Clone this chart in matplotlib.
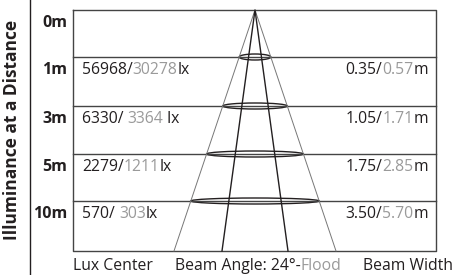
import numpy as np
import matplotlib.pyplot as plt
from matplotlib.patches import Ellipse

plt.rcParams['font.family'] = ['Open Sans', 'DejaVu Sans']

# table data
distances = ["0m", "1m", "3m", "5m", "10m"]
lux_center = ["", "56968/", "6330/ ", "2279/", "570/ "]
lux_flood = ["", "30278", "3364", "1211", "303"]
lux_unit = ["", "lx", " lx", "lx", "lx"]
width_beam = ["", "0.35/", "1.05/", "1.75/", "3.50/"]
width_flood = ["", "0.57", "1.71", "2.85", "5.70"]
beam_angle = 24

DARK = "#231f20"
GRAY = "#9a9a9a"
LINE = "#444444"

fig = plt.figure(figsize=(4.54, 2.75), dpi=100)
ax = fig.add_axes([0, 0, 1, 1])
ax.set_xlim(0, 454)
ax.set_ylim(275, 0)
ax.axis("off")
fig.canvas.draw()
renderer = fig.canvas.get_renderer()

left, right, top, bottom = 73, 436, 10, 251
row_y = [10, 57, 106, 154, 201]

# frame
ax.plot([left, left, right, right, left], [top, bottom, bottom, top, top], color=LINE, lw=1)
ax.plot([30, 30], [0, 275], color=DARK, lw=1)
for y in row_y[1:]:
    ax.plot([left, right], [y, y], color=LINE, lw=1)

def pieces(x, y, parts, size, align="left"):
    # draw multi-coloured text one piece after another
    objs = []
    for s, c in parts:
        t = ax.text(0, y, s, color=c, fontsize=size, va="center", ha="left")
        objs.append(t)
    widths = [t.get_window_extent(renderer).width for t in objs]
    total = sum(widths)
    cur = x if align == "left" else x - total
    for t, w in zip(objs, widths):
        t.set_x(cur)
        cur += w

for i, d in enumerate(distances):
    y = row_y[i] + 13
    ax.text(67, y, d, fontsize=11.5, fontweight="bold", color=DARK, ha="right", va="center")
    if lux_center[i]:
        pieces(82, y, [(lux_center[i], DARK), (lux_flood[i], GRAY), (lux_unit[i], DARK)], 11.3)
        pieces(428, y, [(width_beam[i], DARK), (width_flood[i], GRAY), ("m", DARK)], 11.3, align="right")

# cone diagram
apex_x, apex_y = 255, 10
h = bottom - apex_y
flood_half = 81
beam_half = 33
ax.plot([apex_x - flood_half, apex_x, apex_x + flood_half], [bottom, apex_y, bottom], color="#777777", lw=0.7)
ax.plot([apex_x - beam_half, apex_x, apex_x + beam_half], [bottom, apex_y, bottom], color=DARK, lw=1)
for y in row_y[1:]:
    w = 2 * flood_half * (y - apex_y) / h
    ax.add_patch(Ellipse((apex_x, y), w, 6, fill=False, ec=DARK, lw=1))

# bottom labels
ax.text(73, 266, "Lux Center", fontsize=11.3, color=DARK, ha="left", va="center")
pieces(175, 266, [("Beam Angle: %d°-" % beam_angle, DARK), ("Flood", GRAY)], 11.3)
ax.text(453, 266, "Beam Width", fontsize=11.3, color=DARK, ha="right", va="center")

ax.text(12, 130, "Illuminance at a Distance", fontsize=12.5, fontweight="bold", color=DARK,
        rotation=90, ha="center", va="center")

fig.savefig("out.png", dpi=100)
